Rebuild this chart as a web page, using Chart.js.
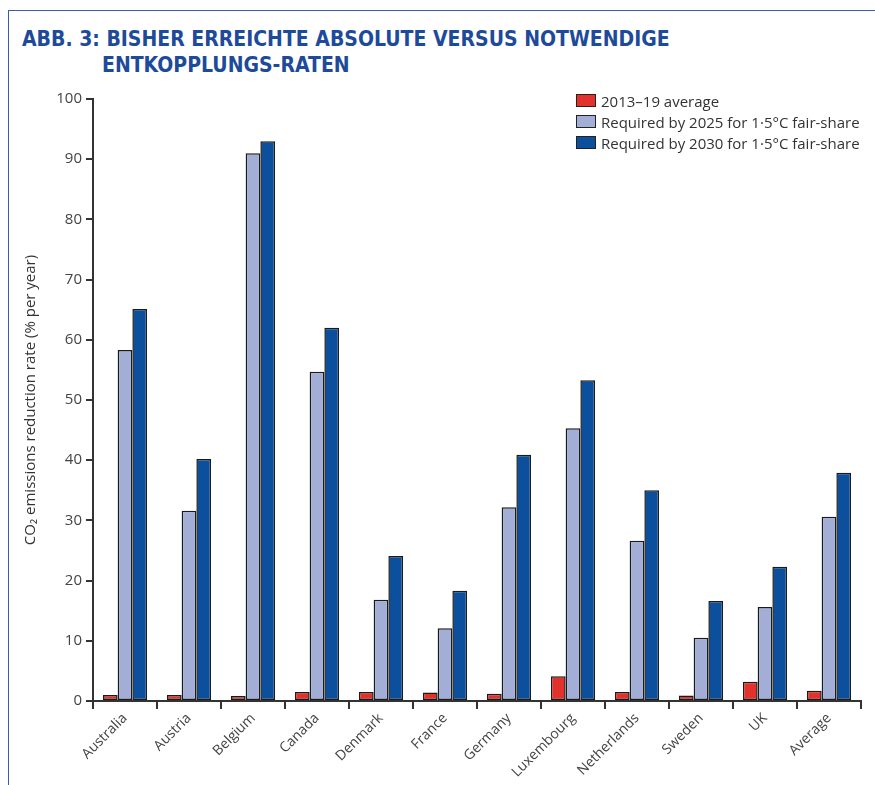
<!DOCTYPE html>
<html>
<head>
<meta charset="utf-8">
<script src="https://cdn.jsdelivr.net/npm/chart.js@4"></script>
<style>
  html, body { margin: 0; padding: 0; background: #fff; }
  body { width: 875px; height: 785px; position: relative; overflow: hidden; }
  .frame { position: absolute; left: 8px; top: 10px; right: -2px; bottom: -2px;
           border-left: 1.5px solid #3c5cab; border-top: 1.5px solid #3c5cab; }
  .title { position: absolute; left: 22px; top: 26px; color: #1d4a9a;
           font-family: "DejaVu Sans Condensed", "Liberation Sans Narrow", sans-serif;
           font-weight: bold; font-size: 21px; line-height: 26px; white-space: nowrap; }
  .title .l2 { padding-left: 80px; }
  .legend { position: absolute; left: 576px; top: 90px; font-family: "Open Sans", sans-serif;
            font-size: 15px; color: #333; white-space: nowrap; }
  .legend div { height: 21px; display: flex; align-items: center; }
  .legend span.box { display: inline-block; width: 20px; height: 13px; border: 1.5px solid #222;
                     margin-right: 5px; box-sizing: border-box; }
  #wrap { position: absolute; left: 0; top: 0; width: 875px; height: 785px; }
</style>
</head>
<body>
<div class="frame"></div>
<div class="title">ABB. 3: BISHER ERREICHTE ABSOLUTE VERSUS NOTWENDIGE<br><span class="l2">ENTKOPPLUNGS-RATEN</span></div>
<div id="wrap"><canvas id="chart" width="875" height="785"></canvas></div>
<div class="legend" id="legend"></div>
<script>
const countries = ['Australia', 'Austria', 'Belgium', 'Canada', 'Denmark', 'France', 'Germany',
                   'Luxembourg', 'Netherlands', 'Sweden', 'UK', 'Average'];
const avg2013to19 = [1.0, 1.0, 0.85, 1.5, 1.5, 1.4, 1.2, 4.1, 1.5, 0.9, 3.2, 1.7];
const req2025 = [58.3, 31.6, 91.0, 54.7, 16.8, 12.1, 32.2, 45.3, 26.6, 10.5, 15.6, 30.6];
const req2030 = [65.1, 40.2, 93.0, 62.0, 24.1, 18.3, 40.9, 53.3, 35.0, 16.6, 22.3, 37.9];
const seriesNames = ['2013\u201319 average', 'Required by 2025 for 1\u00b75\u00b0C fair-share',
                     'Required by 2030 for 1\u00b75\u00b0C fair-share'];
const seriesColors = ['#e5312b', '#a2aed6', '#0b4f9d'];
const yTicks = [0, 10, 20, 30, 40, 50, 60, 70, 80, 90, 100];

// legend drawn as html, same colours as the datasets
document.getElementById('legend').innerHTML = seriesNames.map((n, i) =>
  `<div><span class="box" style="background:${seriesColors[i]}"></span>${n}</div>`).join('');

const fontFam = '"Open Sans", sans-serif';

new Chart(document.getElementById('chart'), {
  type: 'bar',
  data: {
    labels: countries,
    datasets: [avg2013to19, req2025, req2030].map((d, i) => ({
      label: seriesNames[i],
      data: d,
      backgroundColor: seriesColors[i],
      borderColor: '#1a1a1a',
      borderWidth: 1.5,
      borderSkipped: false,
      barPercentage: 1,
      categoryPercentage: 0.69
    }))
  },
  options: {
    responsive: false,
    animation: false,
    layout: { padding: { top: 99, right: 14, left: 0, bottom: 0 } },
    plugins: { legend: { display: false }, tooltip: { enabled: false } },
    scales: {
      x: {
        offset: true,
        border: { color: '#333', width: 2 },
        grid: { display: true, drawOnChartArea: false, drawTicks: true, tickLength: 8, color: '#333', lineWidth: 2, offset: true },
        ticks: { color: '#444', font: { family: fontFam, size: 14 }, maxRotation: 45, minRotation: 45, padding: 1 },
        afterFit: s => { s.height = 84; }
      },
      y: {
        min: 0, max: 100,
        border: { color: '#333', width: 2 },
        grid: { display: true, drawOnChartArea: false, drawTicks: true, tickLength: 7, color: '#333', lineWidth: 2 },
        afterBuildTicks: s => { s.ticks = yTicks.map(v => ({ value: v })); },
        ticks: { color: '#444', font: { family: fontFam, size: 15 }, padding: 4 },
        title: { display: true, text: 'CO\u2082 emissions reduction rate (% per year)', color: '#333',
                 font: { family: fontFam, size: 15 }, padding: { top: 22, bottom: 0 } },
        afterFit: s => { s.width = 93; }
      }
    }
  }
});
</script>
</body>
</html>
